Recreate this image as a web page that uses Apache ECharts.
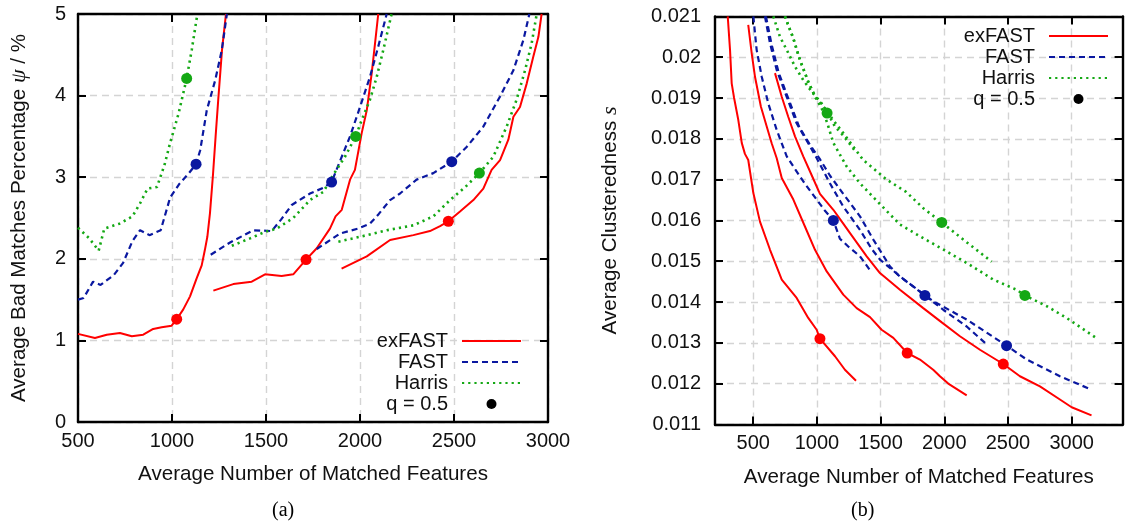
<!DOCTYPE html>
<html>
<head>
<meta charset="utf-8">
<script src="https://cdn.jsdelivr.net/npm/echarts@6/dist/echarts.min.js"></script>
<style>
html,body{margin:0;padding:0;background:#fff;}
#chart{width:1129px;height:527px;}
</style>
</head>
<body>
<div id="chart"></div>
<script>
// ---------- Panel (a): bad matches percentage ----------
const L_exFAST_1 = [[500,1.08],[590,1.03],[653,1.07],[723,1.09],[786,1.05],[847,1.07],[900,1.14],[945,1.16],[998,1.18],[1025,1.26],[1060,1.38],[1096,1.54],[1131,1.76],[1158,1.92],[1175,2.11],[1188,2.27],[1202,2.56],[1218,3.03],[1232,3.5],[1246,3.95],[1266,4.56],[1287,5.0]];
const L_FAST_1 = [[500,1.50],[530,1.52],[580,1.72],[620,1.68],[690,1.80],[740,1.95],[790,2.22],[830,2.35],[880,2.29],[940,2.35],[990,2.75],[1040,2.92],[1090,3.05],[1128,3.16],[1150,3.33],[1185,3.82],[1230,4.19],[1265,4.56],[1292,5.0]];
const L_Harris_1 = [[500,2.38],[560,2.25],[610,2.10],[640,2.37],[720,2.43],[790,2.52],[830,2.68],[870,2.86],[920,2.88],[960,3.15],[990,3.42],[1035,3.78],[1078,4.21],[1105,4.56],[1135,5.0]];
const L_exFAST_2 = [[1220,1.61],[1326,1.69],[1424,1.72],[1495,1.81],[1583,1.79],[1645,1.81],[1713,1.99],[1770,2.13],[1840,2.37],[1870,2.52],[1903,2.60],[1947,2.97],[1973,3.09],[2009,3.54],[2036,3.82],[2062,4.27],[2080,4.64],[2097,5.0]];
const L_FAST_2 = [[1206,2.05],[1309,2.20],[1432,2.35],[1530,2.34],[1580,2.48],[1637,2.66],[1734,2.80],[1805,2.87],[1849,2.94],[1894,3.20],[1947,3.50],[2000,3.86],[2053,4.23],[2097,4.60],[2142,5.0]];
const L_Harris_2 = [[1318,2.16],[1415,2.25],[1495,2.33],[1557,2.37],[1645,2.50],[1734,2.72],[1805,2.82],[1858,3.03],[1920,3.25],[1977,3.50],[2009,3.70],[2053,3.95],[2089,4.23],[2124,4.56],[2168,5.0]];
const L_exFAST_3 = [[1902,1.88],[2036,2.03],[2160,2.23],[2284,2.29],[2372,2.34],[2426,2.40],[2470,2.46],[2532,2.58],[2603,2.72],[2656,2.86],[2700,3.09],[2745,3.21],[2789,3.46],[2816,3.74],[2851,3.86],[2887,4.15],[2922,4.48],[2949,4.72],[2966,5.0]];
const L_FAST_3 = [[1770,2.12],[1894,2.31],[1990,2.37],[2053,2.43],[2100,2.55],[2160,2.72],[2213,2.80],[2301,2.97],[2390,3.05],[2488,3.19],[2567,3.37],[2656,3.62],[2745,3.99],[2816,4.31],[2869,4.68],[2901,5.0]];
const L_Harris_3 = [[1885,2.21],[2000,2.27],[2142,2.35],[2284,2.41],[2390,2.52],[2479,2.72],[2560,2.88],[2635,3.05],[2709,3.25],[2780,3.62],[2833,3.95],[2878,4.31],[2913,4.64],[2940,5.0]];
const L_marks_exFAST = [[1025,1.26],[1713,1.99],[2470,2.46]];
const L_marks_FAST = [[1128,3.16],[1849,2.94],[2488,3.19]];
const L_marks_Harris = [[1078,4.21],[1977,3.50],[2635,3.05]];
const L_xTicks = [500,1000,1500,2000,2500,3000];

// ---------- Panel (b): clusteredness ----------
const R_exFAST_1 = [[300,0.0210],[318,0.02018],[331,0.01936],[350,0.0190],[383,0.01846],[410,0.0179],[435,0.01763],[461,0.01748],[501,0.01667],[553,0.01597],[632,0.01528],[724,0.01455],[841,0.0141],[932,0.01361],[998,0.01332],[1024,0.01310],[1142,0.01267],[1220,0.01234],[1307,0.01207]];
const R_exFAST_2 = [[461,0.02079],[488,0.0201],[514,0.01952],[560,0.01879],[606,0.0183],[645,0.01789],[684,0.01753],[724,0.01704],[815,0.01651],[906,0.01585],[985,0.01528],[1077,0.01475],[1207,0.01418],[1312,0.01385],[1417,0.01363],[1508,0.01332],[1600,0.01312],[1709,0.01275],[1809,0.01259],[1913,0.01234],[1966,0.01218],[2031,0.0120],[2176,0.01171]];
const R_exFAST_3 = [[671,0.01961],[724,0.01903],[775,0.01854],[828,0.01806],[893,0.01757],[960,0.0171],[1024,0.01665],[1129,0.01626],[1200,0.01595],[1260,0.01569],[1391,0.01512],[1495,0.01471],[1652,0.0143],[1835,0.01385],[1980,0.0135],[2123,0.01316],[2280,0.01283],[2463,0.01248],[2594,0.01218],[2751,0.01193],[2908,0.01161],[3000,0.01142],[3156,0.01122]];
const R_FAST_1 = [[501,0.0210],[527,0.02018],[567,0.01952],[618,0.01887],[684,0.01822],[763,0.01757],[830,0.01725],[906,0.0169],[998,0.01651],[1060,0.01625],[1129,0.0160],[1181,0.01555],[1246,0.01536],[1338,0.01512],[1417,0.01478]];
const R_FAST_2 = [[592,0.0210],[632,0.02034],[684,0.01969],[763,0.01903],[841,0.01838],[932,0.01789],[998,0.01753],[1102,0.01691],[1207,0.01634],[1338,0.01577],[1430,0.0153],[1495,0.01504],[1652,0.01463],[1848,0.01416],[1992,0.01381],[2176,0.0134],[2333,0.01296]];
const R_FAST_3 = [[600,0.0210],[645,0.0203],[700,0.01962],[780,0.01895],[860,0.0183],[946,0.01785],[1024,0.0175],[1102,0.0171],[1207,0.01665],[1338,0.0161],[1443,0.01553],[1574,0.01487],[1652,0.01462],[1913,0.01402],[2176,0.01357],[2489,0.01293],[2647,0.01259],[2908,0.01218],[3156,0.01185]];
const R_Harris_1 = [[658,0.0210],[710,0.0205],[763,0.02018],[828,0.01977],[893,0.01944],[958,0.01916],[1030,0.0189],[1085,0.01863],[1142,0.0183],[1207,0.01808],[1300,0.0177]];
const R_Harris_2 = [[749,0.0210],[815,0.02046],[867,0.01993],[932,0.0194],[985,0.01905],[1050,0.0188],[1130,0.01845],[1207,0.01814],[1364,0.01748],[1548,0.0170],[1700,0.0167],[1835,0.0163],[1980,0.01595],[2149,0.01553],[2372,0.01499]];
const R_Harris_3 = [[749,0.0210],[815,0.02046],[867,0.01993],[932,0.0194],[985,0.01903],[1037,0.01875],[1080,0.0184],[1129,0.0179],[1234,0.01732],[1338,0.01691],[1495,0.0164],[1652,0.0159],[1809,0.01561],[2019,0.01524],[2201,0.01491],[2384,0.01455],[2568,0.0143],[2633,0.01416],[2803,0.0139],[2960,0.01361],[3183,0.01314]];
const R_marks_exFAST = [[1024,0.0131],[1709,0.01275],[2463,0.01248]];
const R_marks_FAST = [[1129,0.0160],[1848,0.01416],[2489,0.01293]];
const R_marks_Harris = [[1080,0.01863],[1980,0.01595],[2633,0.01416]];
const R_xTicks = [500,1000,1500,2000,2500,3000];

const legendNames = ['exFAST','FAST','Harris','q = 0.5'];

// ---------- styling ----------
const FONT = 'Liberation Sans, Arial, sans-serif';
const COL = {exFAST:'#ff0000', FAST:'#0a18a0', Harris:'#14a814'};
const LSTYLE = {
  exFAST: {color: COL.exFAST, width: 2, type: 'solid'},
  FAST:   {color: COL.FAST, width: 2.2, type: [6,4]},
  Harris: {color: COL.Harris, width: 2.6, type: [2.2,4]}
};
const gridLine = {show: true, lineStyle: {color: '#d4d4d4', width: 1.4, type: [7,5]}};
const axLine = {show: true, onZero: false, lineStyle: {color: '#000', width: 2.4}};
const tick = {show: true, inside: true, length: 8, lineStyle: {color: '#000', width: 2}};
const lbl = {fontFamily: FONT, fontSize: 20, color: '#111'};
const nameStyle = {fontFamily: FONT, fontSize: 20.6, color: '#111'};
const plainNum = v => String(parseFloat(Number(v).toFixed(4)));

function lineS(name, data, g) {
  return {type: 'line', name: name, data: data, xAxisIndex: g*2, yAxisIndex: g*2,
    symbol: 'none', smooth: false, lineStyle: Object.assign({cap: 'butt'}, LSTYLE[name]),
    itemStyle: {color: COL[name]}, animation: false, z: 3};
}
function markS(g, sets) {
  const data = [];
  sets.forEach(([pts, c]) => pts.forEach(p => data.push({value: p, itemStyle: {color: c}})));
  return {type: 'scatter', name: 'q = 0.5', data: data, xAxisIndex: g*2, yAxisIndex: g*2,
    symbol: 'circle', symbolSize: 11, itemStyle: {color: '#000', opacity: 1}, animation: false, z: 5};
}

const series = [
  lineS('exFAST', L_exFAST_1, 0), lineS('exFAST', L_exFAST_2, 0), lineS('exFAST', L_exFAST_3, 0),
  lineS('FAST', L_FAST_1, 0), lineS('FAST', L_FAST_2, 0), lineS('FAST', L_FAST_3, 0),
  lineS('Harris', L_Harris_1, 0), lineS('Harris', L_Harris_2, 0), lineS('Harris', L_Harris_3, 0),
  markS(0, [[L_marks_exFAST, COL.exFAST], [L_marks_FAST, COL.FAST], [L_marks_Harris, COL.Harris]]),
  lineS('exFAST', R_exFAST_1, 1), lineS('exFAST', R_exFAST_2, 1), lineS('exFAST', R_exFAST_3, 1),
  lineS('FAST', R_FAST_1, 1), lineS('FAST', R_FAST_2, 1), lineS('FAST', R_FAST_3, 1),
  lineS('Harris', R_Harris_1, 1), lineS('Harris', R_Harris_2, 1), lineS('Harris', R_Harris_3, 1),
  markS(1, [[R_marks_exFAST, COL.exFAST], [R_marks_FAST, COL.FAST], [R_marks_Harris, COL.Harris]])
];

const hidden = {color: 'rgba(0,0,0,0)', borderWidth: 0, opacity: 0};
const legendData = legendNames.map(n => n === 'q = 0.5'
  ? {name: n, icon: 'circle', itemStyle: {color: '#000', opacity: 1}}
  : {name: n, itemStyle: hidden});

const legendCommon = {
  data: legendData, orient: 'vertical', align: 'right', itemWidth: 59, itemHeight: 10,
  itemGap: 1, padding: 0, selectedMode: false,
  textStyle: {fontFamily: FONT, fontSize: 20, color: '#111', padding: [0, 9, 0, 0]}
};

const option = {
  backgroundColor: '#fff',
  animation: false,
  grid: [
    {left: 78, right: 581, top: 14, bottom: 105},
    {left: 715, right: 6.4, top: 16.4, bottom: 102.6}
  ],
  legend: [
    Object.assign({right: 607, top: 331}, legendCommon),
    Object.assign({right: 20, top: 26}, legendCommon)
  ],
  xAxis: [
    {type: 'value', gridIndex: 0, min: 500, max: 3000, interval: 500, position: 'bottom',
     axisLine: axLine, axisTick: tick, splitLine: gridLine,
     axisLabel: Object.assign({margin: 9, formatter: plainNum}, lbl),
     name: 'Average Number of Matched Features', nameLocation: 'middle', nameGap: 42,
     nameTextStyle: nameStyle},
    {type: 'value', gridIndex: 0, min: 500, max: 3000, interval: 500, position: 'top',
     axisLine: axLine, axisTick: tick, splitLine: {show: false}, axisLabel: {show: false}},
    {type: 'value', gridIndex: 1, min: 200, max: 3400, position: 'bottom',
     axisLine: axLine, axisTick: Object.assign({customValues: R_xTicks}, tick), splitLine: gridLine,
     axisLabel: Object.assign({margin: 9, customValues: R_xTicks, formatter: plainNum}, lbl),
     name: 'Average Number of Matched Features', nameLocation: 'middle', nameGap: 42,
     nameTextStyle: nameStyle},
    {type: 'value', gridIndex: 1, min: 200, max: 3400, position: 'top',
     axisLine: axLine, axisTick: Object.assign({customValues: R_xTicks}, tick),
     splitLine: {show: false}, axisLabel: {show: false, customValues: R_xTicks}}
  ],
  yAxis: [
    {type: 'value', gridIndex: 0, min: 0, max: 5, interval: 1, position: 'left',
     axisLine: axLine, axisTick: tick, splitLine: gridLine,
     axisLabel: Object.assign({margin: 12, formatter: plainNum}, lbl),
     name: 'Average Bad Matches Percentage {i|ψ} / %', nameLocation: 'middle', nameGap: 48,
     nameTextStyle: Object.assign({rich: {i: {fontFamily: 'Liberation Serif, serif', fontSize: 22, fontStyle: 'italic', color: '#111'}}}, nameStyle)},
    {type: 'value', gridIndex: 0, min: 0, max: 5, interval: 1, position: 'right',
     axisLine: axLine, axisTick: tick, splitLine: {show: false}, axisLabel: {show: false}},
    {type: 'value', gridIndex: 1, min: 0.011, max: 0.021, interval: 0.001, position: 'left',
     axisLine: axLine, axisTick: tick, splitLine: gridLine,
     axisLabel: Object.assign({margin: 14, formatter: plainNum}, lbl),
     name: 'Average Clusteredness {i|s}', nameLocation: 'middle', nameGap: 94,
     nameTextStyle: Object.assign({rich: {i: {fontFamily: 'Liberation Serif, serif', fontSize: 22, fontStyle: 'italic', color: '#111'}}}, nameStyle)},
    {type: 'value', gridIndex: 1, min: 0.011, max: 0.021, interval: 0.001, position: 'right',
     axisLine: axLine, axisTick: tick, splitLine: {show: false}, axisLabel: {show: false}}
  ],
  graphic: [
    {type: 'text', left: 272, top: 501, style: {text: '(a)', font: '20px "Liberation Serif", serif', fill: '#000'}},
    {type: 'text', left: 851, top: 501, style: {text: '(b)', font: '20px "Liberation Serif", serif', fill: '#000'}}
  ],
  series: series
};

const chart = echarts.init(document.getElementById('chart'), null, {renderer: 'canvas'});
chart.setOption(option);
</script>
</body>
</html>
